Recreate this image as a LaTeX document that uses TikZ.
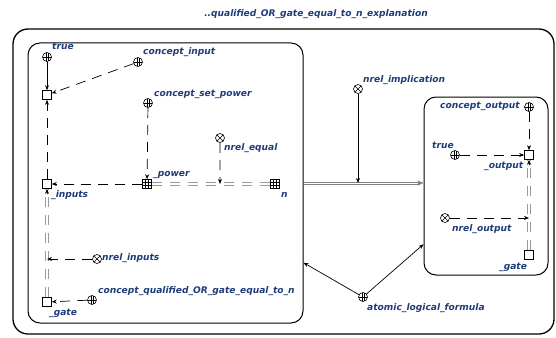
\documentclass[tikz,border=0pt]{standalone}
\usepackage{fontspec}
\newfontfamily\labfont{DejaVu Sans}
\usetikzlibrary{arrows.meta,calc}
\definecolor{labblue}{HTML}{1F3C78}
\definecolor{dblgray}{HTML}{9A9A9A}
\tikzset{
  nd/.style={draw, line width=0.6pt, minimum size=9pt, inner sep=0pt, fill=white},
  cls/.style={nd, circle, path picture={
      \draw[line width=0.5pt] ([xshift=-0.9pt]path picture bounding box.north) -- ([xshift=-0.9pt]path picture bounding box.south)
            ([xshift=0.9pt]path picture bounding box.north) -- ([xshift=0.9pt]path picture bounding box.south)
            (path picture bounding box.west) -- (path picture bounding box.east);}},
  rel/.style={nd, circle, path picture={
      \draw[line width=0.6pt] (path picture bounding box.north west) -- (path picture bounding box.south east)
            (path picture bounding box.north east) -- (path picture bounding box.south west);}},
  varsq/.style={nd, rectangle},
  gridsq/.style={nd, rectangle, path picture={
      \draw[line width=0.5pt] ([xshift=3pt]path picture bounding box.north west) -- ([xshift=3pt]path picture bounding box.south west)
            ([xshift=6pt]path picture bounding box.north west) -- ([xshift=6pt]path picture bounding box.south west)
            ([yshift=-3pt]path picture bounding box.north west) -- ([yshift=-3pt]path picture bounding box.north east)
            ([yshift=-6pt]path picture bounding box.north west) -- ([yshift=-6pt]path picture bounding box.north east);}},
  lab/.style={font=\labfont\bfseries\itshape\fontsize{9.1}{10}\selectfont, text=labblue, inner sep=0pt, anchor=west, text height=7pt, text depth=2pt},
  contour/.style={draw, rounded corners=12pt, line width=1pt, inner sep=0pt},
  tipk/.style={-{Stealth[length=5pt,width=4pt]}},
  dasharr/.style={draw, line width=0.7pt, dash pattern=on 10pt off 7pt, tipk},
  solarr/.style={draw, line width=0.7pt, tipk},
  dgline/.style={draw=dblgray, line width=0.8pt, dash pattern=on 10pt off 8pt},
}
\begin{document}
\begin{tikzpicture}[x=1pt,y=-1pt]
\useasboundingbox (0,0) rectangle (556,337);
\fill[white] (0,0) rectangle (556,337);

% title
\node[lab, anchor=center] (title) at (316,14) {..qualified\_OR\_gate\_equal\_to\_n\_explanation};

% contours
\node[contour, line width=1.3pt, rounded corners=15pt, minimum width=541pt, minimum height=305pt] (frame) at (283.5,181.5) {};
\node[contour, minimum width=275pt, minimum height=280pt] (leftbox) at (165.5,183) {};
\node[contour, minimum width=124pt, minimum height=178pt] (rightbox) at (486,186) {};

% left nodes
\node[cls] (trueL) at (47,57) {};
\node[varsq] (sq1) at (47,95) {};
\node[cls] (cinp) at (138,62) {};
\node[cls] (csp) at (148,103) {};
\node[rel] (neq) at (220,138) {};
\node[gridsq] (power) at (147,184) {};
\node[gridsq] (n) at (275,184) {};
\node[varsq] (inputs) at (47,184) {};
\node[rel] (ninp) at (97,259) {};
\node[varsq] (gateL) at (47,302) {};
\node[cls] (cq) at (92,300) {};

% middle nodes
\node[rel] (nimpl) at (358,89) {};
\node[cls] (alf) at (363,297) {};

% right nodes
\node[cls] (cout) at (529,107) {};
\node[varsq] (outp) at (529,155) {};
\node[cls] (trueR) at (455,155) {};
\node[rel] (nout) at (445,218) {};
\node[varsq] (gateR) at (529,255) {};

% connector points
\coordinate (eqmid) at ($(power)!0.57!(n)$);
\coordinate (inpmid) at (gateL |- ninp);
\coordinate (outmid) at (gateR |- nout);
\coordinate (boxend) at (leftbox.east -| rightbox.west);
\coordinate (impl) at (leftbox.east -| nimpl);

% labels
\node[lab] (l-trueL) at (52,47) {true};
\node[lab] (l-cinp) at (143,52) {concept\_input};
\node[lab] (l-csp) at (154,94) {concept\_set\_power};
\node[lab] (l-neq) at (224,148) {nrel\_equal};
\node[lab] (l-power) at (153,174) {\_power};
\node[lab] (l-n) at (281,195) {n};
\node[lab] (l-inputs) at (51,195) {\_inputs};
\node[lab] (l-ninp) at (102,258) {nrel\_inputs};
\node[lab] (l-gateL) at (49,313) {\_gate};
\node[lab] (l-cq) at (98,291) {concept\_qualified\_OR\_gate\_equal\_to\_n};
\node[lab] (l-nimpl) at (363,80) {nrel\_implication};
\node[lab] (l-alf) at (367,308) {atomic\_logical\_formula};
\node[lab] (l-cout) at (440,106) {concept\_output};
\node[lab] (l-trueR) at (432,146) {true};
\node[lab] (l-outp) at (484,166) {\_output};
\node[lab] (l-nout) at (452,229) {nrel\_output};
\node[lab] (l-gateR) at (499,267) {\_gate};

% left connectors
\draw[solarr] (trueL) -- (sq1);
\draw[dasharr] (cinp) -- (sq1);
\draw[dasharr] (inputs) -- (sq1);
\draw[dasharr] (power) -- (inputs);
\draw[dasharr] (csp) -- (power);
\draw[dgline, transform canvas={yshift=1.2pt}] (power) -- (n);
\draw[dgline, transform canvas={yshift=-1.2pt}] (power) -- (n);
\draw[dasharr] (neq) -- (eqmid);
\draw[dgline, transform canvas={xshift=1.2pt}] (gateL) -- (inputs);
\draw[dgline, transform canvas={xshift=-1.2pt}] (gateL) -- (inputs);
\draw[line width=0.7pt, tipk] ([yshift=-5pt]inputs.south) -- (inputs.south);
\draw[dasharr] (ninp) -- (inpmid);
\draw[dasharr] (cq) -- (gateL);

% middle connectors
\draw[draw=gray, line width=0.6pt, transform canvas={yshift=0.9pt}] (leftbox.east) -- ([xshift=-4pt]boxend);
\draw[draw=gray, line width=0.6pt, transform canvas={yshift=-0.9pt}] (leftbox.east) -- ([xshift=-4pt]boxend);
\draw[draw=gray, line width=0.8pt, -{Stealth[length=6pt,width=5pt]}] ([xshift=-6pt]boxend) -- (boxend);
\draw[solarr] (nimpl) -- (impl);
\draw[solarr] (alf) -- (leftbox.-30.5);
\draw[solarr] (alf) -- (rightbox.223);

% right connectors
\draw[dasharr] (cout) -- (outp);
\draw[dasharr] (trueR) -- (outp);
\draw[dgline, transform canvas={xshift=1.2pt}] (gateR) -- (outp);
\draw[dgline, transform canvas={xshift=-1.2pt}] (gateR) -- (outp);
\draw[line width=0.7pt, tipk] ([yshift=-5pt]outp.south) -- (outp.south);
\draw[dasharr] (nout) -- (outmid);
\end{tikzpicture}
\end{document}
